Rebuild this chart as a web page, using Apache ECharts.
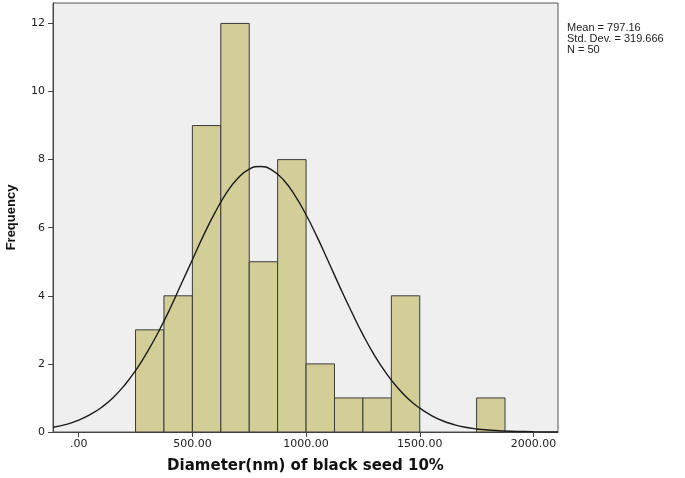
<!DOCTYPE html>
<html>
<head>
<meta charset="utf-8">
<script src="https://cdn.jsdelivr.net/npm/echarts@6/dist/echarts.min.js"></script>
<style>
  html, body { margin: 0; padding: 0; background: #fff; }
  #chart { width: 685px; height: 478px; }
</style>
</head>
<body>
<div id="chart"></div>
<script>
// histogram bins (lower edge) and counts
const binStarts = [250, 375, 500, 625, 750, 875, 1000, 1125, 1250, 1375, 1500, 1625, 1750];
const binWidth = 125;
const frequencies = [3, 4, 9, 12, 5, 8, 2, 1, 1, 4, 0, 0, 1];

// normal curve
const curveX = [-113, -50, 0, 50, 100, 150, 200, 250, 300, 350, 400, 450, 500, 550, 600, 650, 700, 750, 800,
  850, 900, 950, 1000, 1050, 1100, 1150, 1200, 1250, 1300, 1350, 1400, 1450, 1500, 1550, 1600, 1650, 1700, 1750,
  1800, 1900, 2000, 2108];
const curveY = [0.14, 0.23, 0.35, 0.51, 0.72, 1.0, 1.36, 1.8, 2.33, 2.93, 3.6, 4.33, 5.06, 5.79, 6.45, 7.02, 7.45, 7.72, 7.8,
  7.69, 7.41, 6.96, 6.38, 5.71, 4.98, 4.24, 3.53, 2.86, 2.26, 1.75, 1.32, 0.97, 0.7, 0.49, 0.33, 0.22, 0.14, 0.09,
  0.06, 0.02, 0.01, 0.0];

const xTicks = [0, 500, 1000, 1500, 2000];
const yTicks = [0, 2, 4, 6, 8, 10, 12];
const statsLines = ['Mean = 797.16', 'Std. Dev. = 319.666', 'N = 50'];

const chart = echarts.init(document.getElementById('chart'));

const barData = binStarts.map((s, i) => [s, s + binWidth, frequencies[i]]);
const curveData = curveX.map((x, i) => [x, curveY[i]]);

const tickText = { color: '#222', fontFamily: 'DejaVu Sans', fontSize: 11 };

chart.setOption({
  animation: false,
  grid: {
    show: true,
    left: 53, right: 127, top: 3, bottom: 46,
    outerBoundsMode: 'none',
    backgroundColor: '#efefef',
    borderColor: '#555',
    borderWidth: 1
  },
  xAxis: {
    type: 'value',
    min: -113,
    max: 2108,
    name: 'Diameter(nm) of black seed 10%',
    nameLocation: 'middle',
    nameGap: 27,
    nameTextStyle: { fontFamily: 'DejaVu Sans', fontWeight: 'bold', fontSize: 15, color: '#111' },
    axisLine: { lineStyle: { color: '#444' } },
    axisTick: { customValues: xTicks, length: 5, lineStyle: { color: '#444' } },
    axisLabel: Object.assign({
      customValues: xTicks,
      margin: 7,
      formatter: v => v === 0 ? '.00' : v.toFixed(2)
    }, tickText),
    splitLine: { show: false }
  },
  yAxis: {
    type: 'value',
    min: 0,
    max: 12.6,
    name: 'Frequency',
    nameLocation: 'middle',
    nameGap: 35,
    nameTextStyle: { fontFamily: 'Liberation Sans', fontWeight: 'bold', fontSize: 13, color: '#111' },
    axisLine: { show: true, onZero: false, lineStyle: { color: '#444' } },
    axisTick: { show: true, customValues: yTicks, length: 5, lineStyle: { color: '#444' } },
    axisLabel: Object.assign({ customValues: yTicks, margin: 8 }, tickText),
    splitLine: { show: false }
  },
  graphic: [{
    type: 'text',
    left: 567,
    top: 22,
    style: {
      text: statsLines.join('\n'),
      fill: '#222',
      font: '11px "Liberation Sans"',
      lineHeight: 11
    }
  }],
  series: [
    {
      type: 'custom',
      data: barData,
      encode: { x: [0, 1], y: 2 },
      renderItem: function (params, api) {
        const f = api.value(2);
        if (!f) return null;
        const p0 = api.coord([api.value(0), 0]);
        const p1 = api.coord([api.value(1), f]);
        return {
          type: 'rect',
          shape: { x: p0[0], y: p1[1], width: p1[0] - p0[0], height: p0[1] - p1[1] },
          style: { fill: '#d3ce98', stroke: '#3a3a3a', lineWidth: 1 }
        };
      },
      z: 2
    },
    {
      type: 'line',
      data: curveData,
      smooth: true,
      showSymbol: false,
      lineStyle: { color: '#1a1a1a', width: 1.4 },
      z: 3
    }
  ]
});
</script>
</body>
</html>
